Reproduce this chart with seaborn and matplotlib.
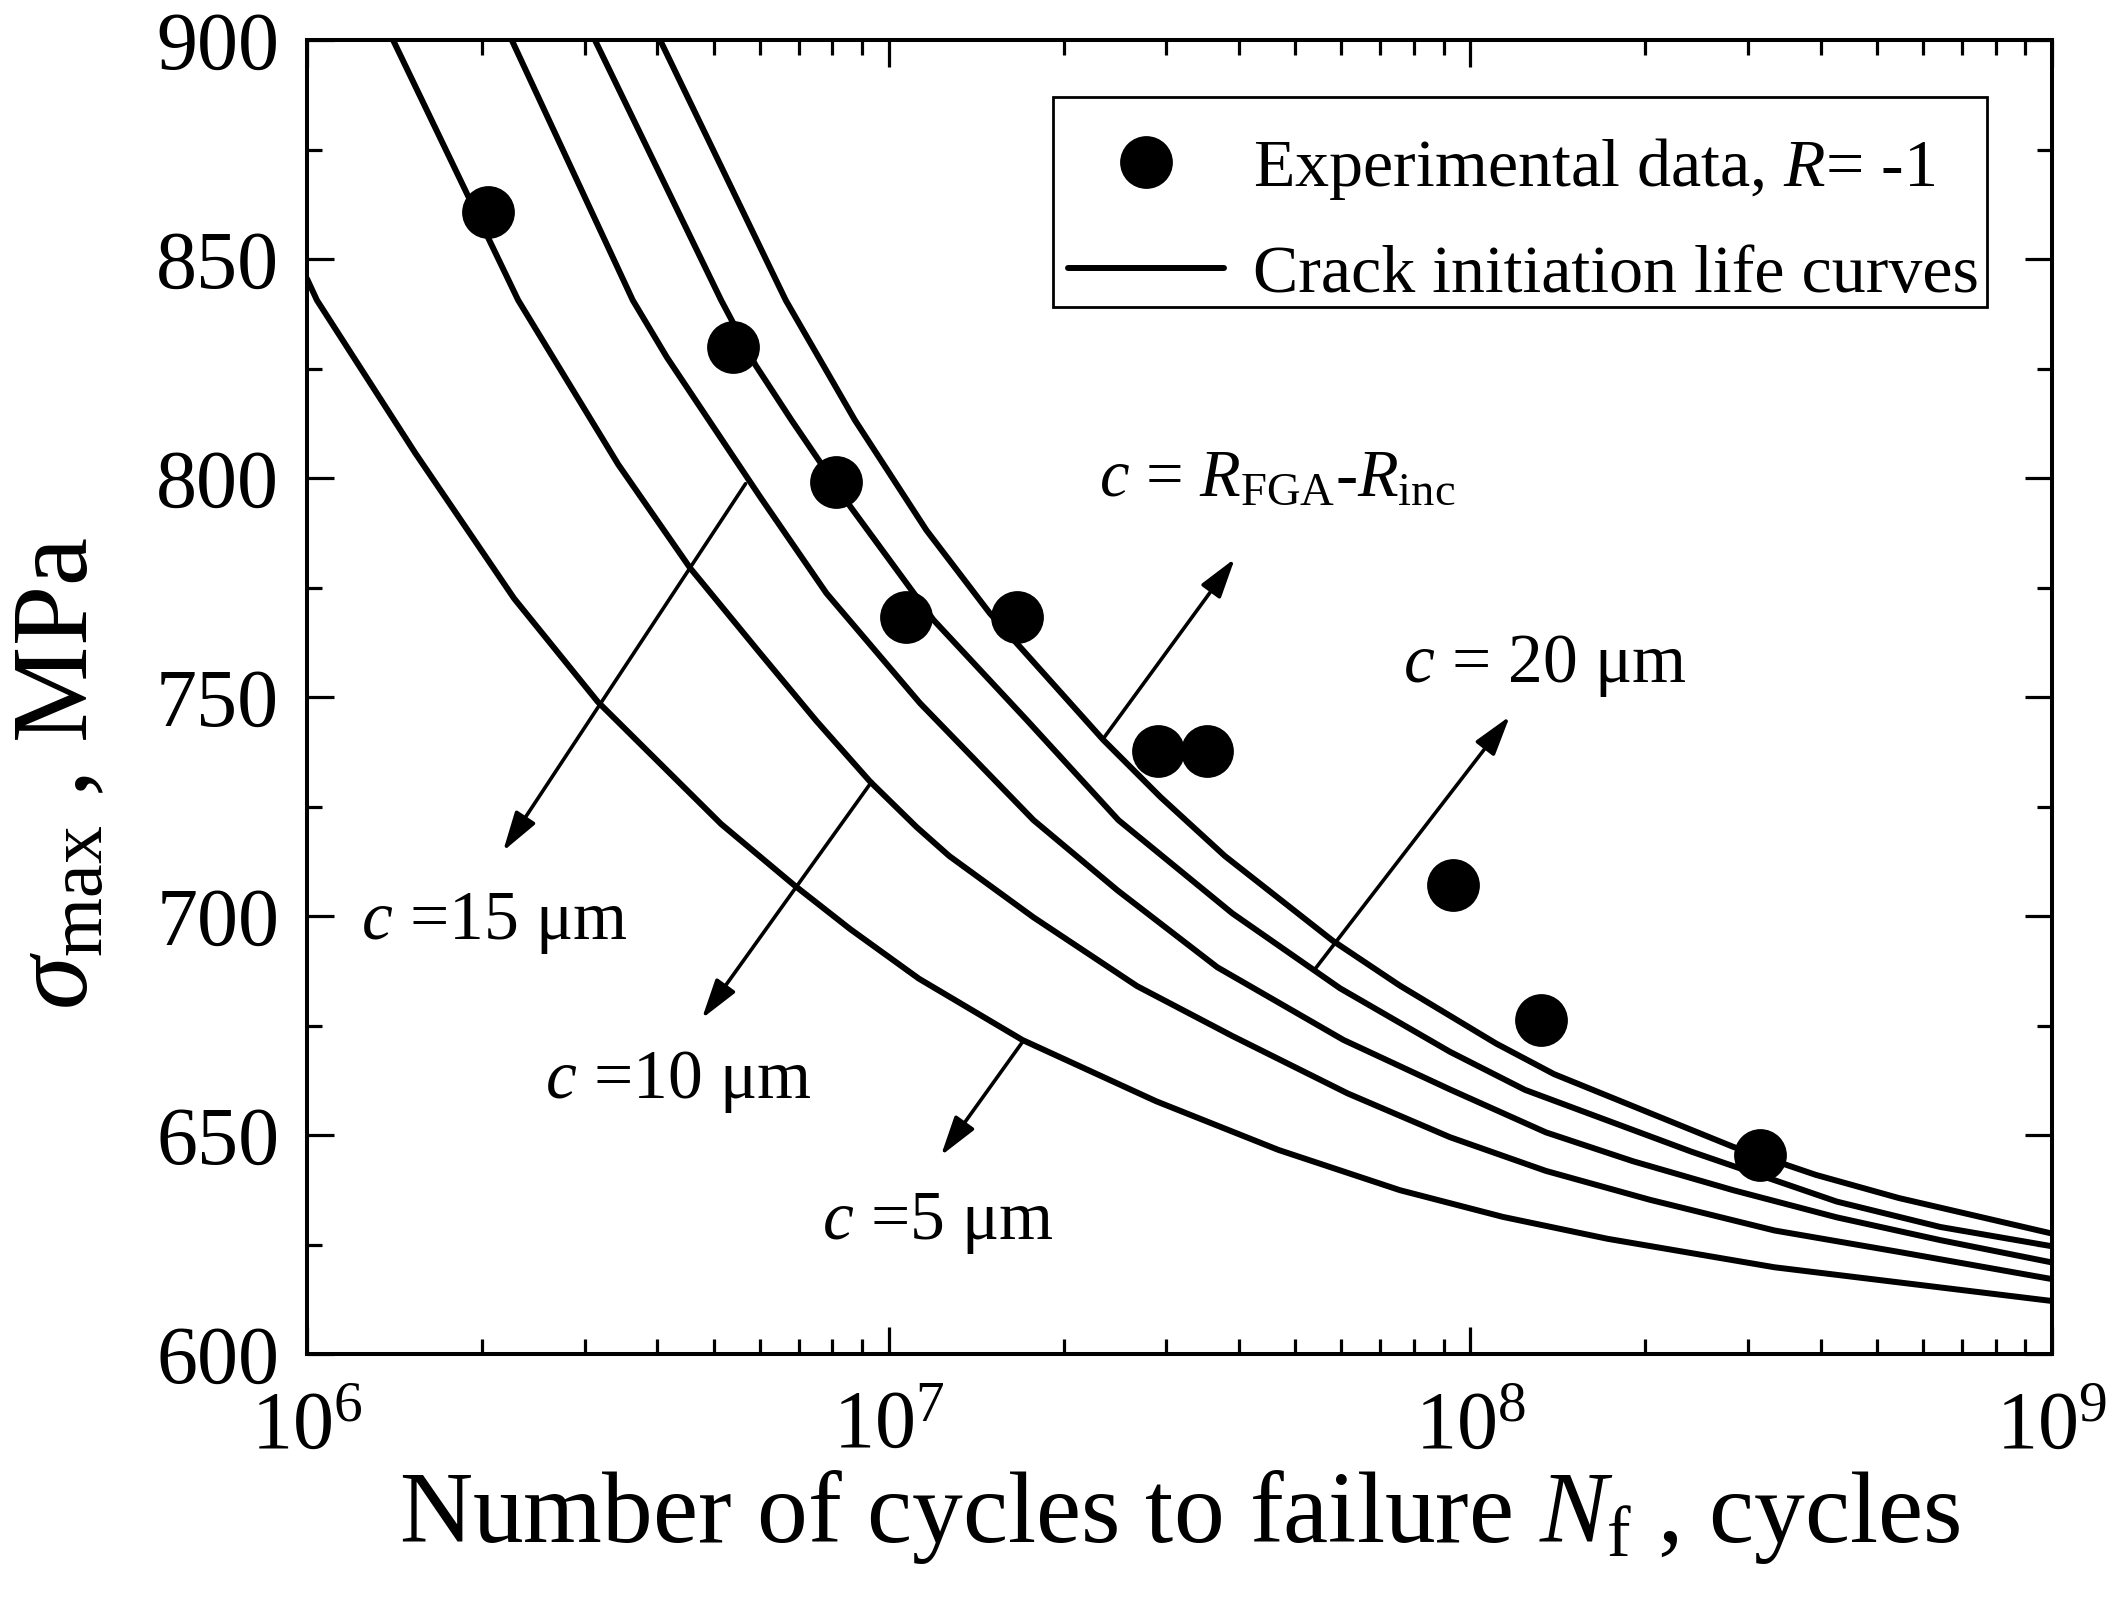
import numpy as np
import pandas as pd
import matplotlib
matplotlib.use("Agg")
import matplotlib.pyplot as plt
import seaborn as sns
from matplotlib.lines import Line2D
from matplotlib.patches import Rectangle
from matplotlib.ticker import LogLocator, MultipleLocator, NullFormatter

# ---------------- data ----------------
# crack initiation life curves: cycles N and max stress (MPa)
c5_N = [1.00e6, 1.04e6, 1.535e6, 2.27e6, 3.162e6, 5.152e6, 6.871e6, 8.59e6, 1.127e7, 1.698e7,
        2.884e7, 4.677e7, 7.568e7, 1.138e8, 1.722e8, 3.334e8, 1.00e9]
c5_S = [845.5, 840.6, 805.7, 772.5, 748.9, 721.0, 707.1, 697.0, 685.7, 671.7,
        657.7, 646.6, 637.4, 631.3, 626.3, 619.8, 612.1]

c10_N = [1.406e6, 2.307e6, 3.428e6, 4.560e6, 6.012e6, 7.516e6, 9.290e6, 1.117e7, 1.271e7,
         1.774e7, 2.673e7, 3.899e7, 6.152e7, 9.226e7, 1.349e8, 2.037e8, 3.334e8, 5.458e8, 1.00e9]
c10_S = [900.0, 840.6, 803.1, 779.4, 760.0, 744.5, 730.7, 720.3, 713.7,
         699.7, 684.0, 672.6, 659.5, 649.5, 641.8, 635.2, 628.2, 623.3, 617.1]

c15_N = [2.249e6, 3.631e6, 4.159e6, 6.012e6, 7.816e6, 1.132e7, 1.774e7, 2.477e7, 3.673e7,
         6.053e7, 9.226e7, 1.349e8, 1.905e8, 2.831e8, 4.266e8, 6.427e8, 1.00e9]
c15_S = [900.0, 840.6, 827.5, 795.7, 773.7, 748.6, 721.9, 705.8, 688.3,
         671.7, 660.4, 650.6, 644.0, 637.4, 631.2, 626.0, 620.9]

c20_N = [3.126e6, 5.152e6, 5.902e6, 6.808e6, 8.59e6, 1.194e7, 1.726e7, 2.483e7, 3.899e7,
         5.970e7, 9.226e7, 1.242e8, 1.722e8, 2.399e8, 4.266e8, 6.427e8, 1.00e9]
c20_S = [900.0, 840.6, 825.8, 813.2, 793.5, 767.6, 744.8, 721.9, 700.6,
         683.5, 669.0, 660.3, 653.3, 646.2, 634.8, 629.0, 624.6]

cfga_N = [4.046e6, 6.653e6, 8.750e6, 1.161e7, 1.493e7, 2.339e7, 2.931e7, 3.784e7, 5.794e7,
          7.568e7, 1.107e8, 1.393e8, 2.037e8, 2.831e8, 3.926e8, 5.458e8, 1.00e9]
cfga_S = [900.0, 840.6, 813.2, 788.1, 769.1, 740.2, 727.2, 713.7, 694.4,
          684.1, 670.9, 663.9, 655.0, 647.3, 640.9, 635.6, 627.5]

# experimental data, R = -1
exp_N = [2.05e6, 5.41e6, 8.11e6, 1.07e7, 1.66e7, 2.90e7, 3.53e7, 9.33e7, 1.324e8, 3.15e8]
exp_S = [860.7, 830.0, 799.0, 768.3, 768.3, 737.7, 737.7, 707.1, 676.2, 645.5]

x_ticks = [1e6, 1e7, 1e8, 1e9]
y_ticks = [600, 650, 700, 750, 800, 850, 900]

curves = {"c5": (c5_N, c5_S), "c10": (c10_N, c10_S), "c15": (c15_N, c15_S),
          "c20": (c20_N, c20_S), "cfga": (cfga_N, cfga_S)}
df = pd.concat([pd.DataFrame({"N": n, "S": s, "curve": k}) for k, (n, s) in curves.items()],
               ignore_index=True)

# ---------------- style ----------------
sns.set_theme(style="ticks")
plt.rcParams["font.family"] = ["Liberation Serif", "DejaVu Serif"]
plt.rcParams["mathtext.fontset"] = "custom"
plt.rcParams["mathtext.rm"] = "Liberation Serif"
plt.rcParams["mathtext.it"] = "Liberation Serif:italic"
plt.rcParams["mathtext.bf"] = "Liberation Serif:bold"
for key in ["text.color", "axes.labelcolor", "xtick.color", "ytick.color", "axes.edgecolor"]:
    plt.rcParams[key] = "black"
plt.rcParams["axes.linewidth"] = 2.9
plt.rcParams["lines.solid_capstyle"] = "round"
plt.rcParams["lines.solid_joinstyle"] = "round"

fig = plt.figure(figsize=(21.09, 16.14), dpi=100)
ax = fig.add_axes([0.14557, 0.16109, 0.8274, 0.8141])
ax.set_facecolor("white")

sns.lineplot(data=df, x="N", y="S", units="curve", estimator=None, sort=False,
             color="black", lw=4.3, ax=ax, legend=False)
sns.scatterplot(x=exp_N, y=exp_S, s=1444, color="black", edgecolor="black",
                linewidth=0, ax=ax, legend=False, zorder=4)

ax.set_xscale("log")
ax.set_xlim(x_ticks[0], x_ticks[-1])
ax.set_ylim(y_ticks[0], y_ticks[-1])
ax.xaxis.set_major_locator(LogLocator(base=10, numticks=10))
ax.xaxis.set_minor_locator(LogLocator(base=10, subs=np.arange(2, 10), numticks=100))
ax.xaxis.set_minor_formatter(NullFormatter())
ax.set_yticks(y_ticks)
ax.yaxis.set_minor_locator(MultipleLocator(25))

ax.tick_params(which="both", direction="in", top=True, right=True, width=2.3,
               color="black", labelcolor="black")
ax.tick_params(which="major", length=19.5, labelsize=59, pad=20)
ax.tick_params(which="minor", length=10.8)
ax.tick_params(axis="x", which="major", pad=26)
for sp in ax.spines.values():
    sp.set_color("black")

ax.set_xlabel(r"Number of cycles to failure $N_{\rm f}$ , cycles", fontsize=73, labelpad=2,
              color="black")
ax.set_ylabel("")
fig.text(61 / 2109, 1 - 773 / 1614, r"$\sigma_{\rm max}$ , MPa", fontsize=78,
         rotation=90, ha="center", va="center", color="black")

# annotations
arrow_kw = dict(arrowstyle="-|>,head_length=1.1,head_width=0.33", color="black", lw=2.6,
                shrinkA=0, shrinkB=0, mutation_scale=22)
arrows = [((5.675e6, 798.7), (2.173e6, 714.8)),
          ((9.354e6, 730.7), (4.775e6, 676.6)),
          ((1.706e7, 671.6), (1.230e7, 645.3)),
          ((2.333e7, 740.3), (3.936e7, 781.6)),
          ((5.408e7, 687.9), (1.169e8, 745.6))]
for start, end in arrows:
    ax.annotate("", xy=end, xytext=start, xycoords="data", textcoords="data",
                arrowprops=arrow_kw)

txt_kw = dict(fontsize=50, ha="left", va="baseline", color="black")
ax.text(1.236e6, 694.7, "$c$ =15 \u03bcm", **txt_kw)
ax.text(2.57e6, 658.4, "$c$ =10 \u03bcm", **txt_kw)
ax.text(7.69e6, 626.2, "$c$ =5 \u03bcm", **txt_kw)
ax.text(2.296e7, 795.9, r"$c$ = $R_{\rm FGA}$-$R_{\rm inc}$", fontsize=48, ha="left",
        va="baseline", color="black")
ax.text(7.66e7, 753.5, "$c$ = 20 \u03bcm", **txt_kw)

# legend box drawn as a frame, legend entries placed inside it
ax.add_patch(Rectangle((0.4275, 0.7968), 0.9628 - 0.4275, 0.9566 - 0.7968,
                       transform=ax.transAxes, facecolor="white", edgecolor="black",
                       lw=2.0, zorder=5))
handles = [Line2D([], [], ls="none", marker="o", ms=38, mfc="black", mec="black", mew=0),
           Line2D([], [], color="black", lw=4.3)]
labels = ["Experimental data, $R$= -1", "Crack initiation life curves"]
leg = ax.legend(handles, labels, loc="upper right", bbox_to_anchor=(0.969, 0.9414),
                borderaxespad=0, fontsize=49, frameon=False,
                handlelength=2.3, handletextpad=0.42, borderpad=0.28,
                labelspacing=0.62)
leg.set_zorder(6)
for t in leg.get_texts():
    t.set_color("black")

fig.savefig("out.png", dpi=100, facecolor="white")
